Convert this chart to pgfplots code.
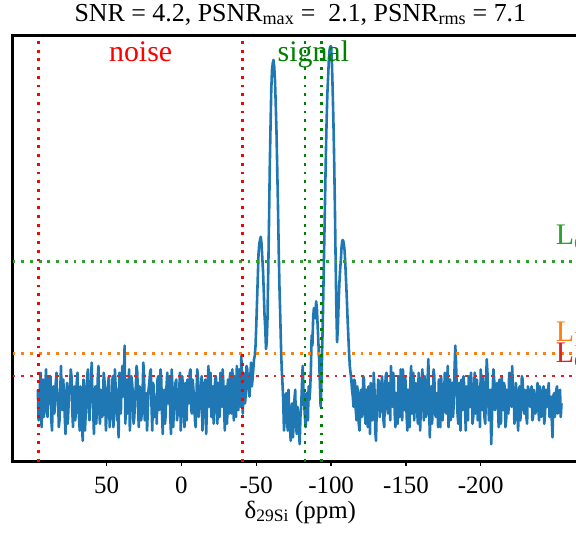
\documentclass[border=0pt]{standalone}
\usepackage{pgfplots}
\pgfplotsset{compat=1.18}
\usepackage{pgfplotstable}
\usepackage{fontspec}
\setmainfont{Liberation Serif}

\definecolor{tabblue}{RGB}{31,119,180}
\definecolor{tabgreen}{RGB}{44,160,44}
\definecolor{taborange}{RGB}{255,127,14}
\definecolor{tabred}{RGB}{214,39,40}
\definecolor{mplgreen}{RGB}{0,128,0}
\definecolor{mplred}{RGB}{255,0,0}

% spectrum: ppm, normalised intensity
\pgfplotstableread{
x y
96 0.03
95.5 -0.06
95 -0.02
94.5 0.05
94 0.08
93.5 -0.08
93 0.01
92.5 0.06
92 -0.05
91.5 -0.01
91 0.04
90.5 0.09
90 -0.03
89.5 -0.05
89 0.07
88.5 0.03
88 -0.01
87.5 0.07
87 -0.06
86.5 -0.09
86 0.02
85.5 0.04
85 -0.04
84.5 -0.02
84 0.05
83.5 0.08
83 0.00
82.5 0.02
82 -0.08
81.5 -0.06
81 0.03
80.5 0.10
80 -0.02
79.5 -0.03
79 0.06
78.5 0.01
78 -0.05
77.5 -0.10
77 0.01
76.5 0.05
76 -0.07
75.5 -0.02
75 0.04
74.5 0.03
74 0.09
73.5 0.07
73 -0.03
72.5 -0.08
72 0.02
71.5 0.04
71 -0.06
70.5 -0.03
70 0.05
69.5 0.08
69 -0.01
68.5 -0.05
68 -0.09
67.5 0.04
67 0.00
66.5 -0.07
66 -0.12
65.5 0.06
65 0.03
64.5 -0.09
64 -0.04
63.5 0.02
63 0.07
62.5 0.09
62 -0.02
61.5 -0.06
61 0.04
60.5 0.05
60 0.11
59.5 0.01
59 -0.03
58.5 -0.10
58 0.01
57.5 0.04
57 -0.07
56.5 -0.03
56 0.06
55.5 0.10
55 -0.02
54.5 -0.07
54 0.03
53.5 0.02
53 -0.05
52.5 -0.04
52 0.08
51.5 0.06
51 0.00
50.5 -0.09
50 -0.04
49.5 0.03
49 0.05
48.5 0.07
48 -0.08
47.5 -0.05
47 0.02
46.5 0.01
46 0.07
45.5 -0.08
45 -0.03
44.5 0.09
44 0.04
43.5 0.03
43 -0.06
42.5 -0.05
42 -0.11
41.5 0.08
41 0.02
40.5 -0.04
40 0.06
39.5 0.10
39 0.01
38.5 0.05
38 0.16
37.5 -0.07
37 0.03
36.5 0.06
36 -0.04
35.5 -0.02
35 0.09
34.5 -0.09
34 -0.02
33.5 0.07
33 0.05
32.5 0.02
32 -0.07
31.5 -0.05
31 0.01
30.5 0.04
30 0.10
29.5 0.08
29 -0.03
28.5 -0.08
28 0.04
27.5 0.03
27 -0.06
26.5 -0.04
26 0.02
25.5 0.11
25 0.07
24.5 -0.06
24 -0.01
23.5 0.02
23 -0.09
22.5 -0.03
22 0.03
21.5 0.05
21 0.08
20.5 0.09
20 -0.02
19.5 -0.09
19 0.05
18.5 0.04
18 -0.05
17.5 -0.02
17 0.01
16.5 -0.07
16 0.06
15.5 0.07
15 -0.03
14.5 0.01
14 0.09
13.5 0.06
13 -0.04
12.5 -0.10
12 0.02
11.5 0.03
11 -0.07
10.5 -0.04
10 0.04
9.5 0.08
9 -0.01
8.5 0.02
8 0.07
7.5 -0.05
7 -0.10
6.5 0.09
6 0.03
5.5 -0.08
5 -0.02
4.5 0.01
4 0.05
3.5 0.06
3 -0.06
2.5 -0.04
2 0.01
1.5 0.03
1 0.08
0.5 -0.09
0 -0.03
-0.5 0.07
-1 0.04
-1.5 -0.02
-2 -0.08
-2.5 0.05
-3 0.02
-3.5 -0.06
-4 0.06
-4.5 0.02
-5 -0.01
-5.5 0.08
-6 0.09
-6.5 -0.03
-7 -0.04
-7.5 0.06
-8 0.03
-8.5 0.01
-9 -0.06
-9.5 -0.08
-10 0.01
-10.5 0.09
-11 0.07
-11.5 -0.05
-12 -0.02
-12.5 0.02
-13 0.04
-13.5 0.07
-14 -0.09
-14.5 -0.04
-15 0.00
-15.5 0.05
-16 0.06
-16.5 -0.10
-17 -0.03
-17.5 0.03
-18 0.10
-18.5 -0.02
-19 0.02
-19.5 0.08
-20 -0.05
-20.5 0.01
-21 0.04
-21.5 -0.07
-22 -0.01
-22.5 0.06
-23 0.07
-23.5 0.00
-24 -0.07
-24.5 0.05
-25 0.03
-25.5 -0.05
-26 0.08
-26.5 0.02
-27 -0.02
-27.5 0.09
-28 0.05
-28.5 -0.03
-29 -0.09
-29.5 0.04
-30 0.01
-30.5 -0.07
-31 0.06
-31.5 0.03
-32 -0.04
-32.5 0.08
-33 0.03
-33.5 -0.04
-34 0.09
-34.5 0.02
-35 -0.06
-35.5 0.07
-36 0.02
-36.5 -0.05
-37 0.10
-37.5 0.04
-38 -0.03
-38.5 0.09
-39 0.05
-39.5 -0.02
-40 0.13
-40.5 0.05
-41 -0.04
-41.5 0.08
-42 0.06
-42.5 -0.01
-43 0.02
-43.5 0.10
-44 0.09
-44.5 0.04
-45 0.03
-45.5 0.01
-46 0.07
-46.5 0.11
-47 0.04
-47.5 0.06
-48 0.09
-48.5 0.12
-49 0.13
-49.5 0.16
-50 0.22
-50.5 0.29
-51 0.36
-51.5 0.43
-52 0.46
-52.5 0.47
-53 0.48
-53.5 0.46
-54 0.42
-54.5 0.38
-55 0.32
-55.5 0.25
-56 0.21
-56.5 0.15
-57 0.17
-57.5 0.24
-58 0.38
-58.5 0.52
-59 0.68
-59.5 0.80
-60 0.91
-60.5 0.97
-61 0.99
-61.5 1.00
-62 0.98
-62.5 0.94
-63 0.87
-63.5 0.79
-64 0.68
-64.5 0.57
-65 0.44
-65.5 0.33
-66 0.25
-66.5 0.16
-67 0.09
-67.5 0.05
-68 0.00
-68.5 -0.09
-69 -0.06
-69.5 0.01
-70 0.02
-70.5 -0.05
-71 -0.09
-71.5 0.03
-72 -0.03
-72.5 -0.08
-73 -0.12
-73.5 -0.04
-74 -0.01
-74.5 -0.11
-75 -0.07
-75.5 0.00
-76 0.03
-76.5 -0.06
-77 -0.10
-77.5 -0.02
-78 -0.04
-78.5 -0.09
-79 -0.13
-79.5 -0.05
-80 -0.02
-80.5 0.04
-81 0.10
-81.5 0.03
-82 -0.01
-82.5 -0.05
-83 -0.08
-83.5 0.02
-84 -0.03
-84.5 -0.06
-85 0.04
-85.5 0.00
-86 0.03
-86.5 0.09
-87 0.19
-87.5 0.16
-88 0.24
-88.5 0.27
-89 0.27
-89.5 0.24
-90 0.29
-90.5 0.27
-91 0.22
-91.5 0.17
-92 0.12
-92.5 0.05
-93 -0.02
-93.5 0.04
-94 0.14
-94.5 0.24
-95 0.36
-95.5 0.48
-96 0.60
-96.5 0.72
-97 0.82
-97.5 0.90
-98 0.95
-98.5 1.00
-99 1.03
-99.5 1.04
-100 1.04
-100.5 1.00
-101 0.92
-101.5 0.83
-102 0.72
-102.5 0.58
-103 0.42
-103.5 0.27
-104 0.17
-104.5 0.21
-105 0.28
-105.5 0.34
-106 0.38
-106.5 0.41
-107 0.45
-107.5 0.47
-108 0.47
-108.5 0.46
-109 0.44
-109.5 0.40
-110 0.35
-110.5 0.30
-111 0.24
-111.5 0.19
-112 0.14
-112.5 0.10
-113 0.08
-113.5 0.06
-114 0.03
-114.5 0.01
-115 -0.02
-115.5 0.06
-116 0.05
-116.5 -0.03
-117 -0.06
-117.5 0.04
-118 0.01
-118.5 -0.07
-119 -0.09
-119.5 0.02
-120 0.03
-120.5 -0.05
-121 -0.04
-121.5 0.07
-122 0.06
-122.5 -0.01
-123 -0.07
-123.5 0.03
-124 0.00
-124.5 -0.08
-125 0.04
-125.5 0.01
-126 -0.10
-126.5 0.05
-127 0.02
-127.5 -0.06
-128 -0.05
-128.5 0.08
-129 0.03
-129.5 -0.09
-130 -0.12
-130.5 -0.03
-131 0.01
-131.5 0.06
-132 0.05
-132.5 -0.05
-133 -0.03
-133.5 0.02
-134 0.07
-134.5 0.04
-135 -0.06
-135.5 -0.08
-136 0.02
-136.5 0.07
-137 0.08
-137.5 -0.02
-138 -0.04
-138.5 0.05
-139 0.03
-139.5 -0.06
-140 0.10
-140.5 0.03
-141 -0.02
-141.5 0.08
-142 0.06
-142.5 -0.04
-143 -0.08
-143.5 0.02
-144 0.01
-144.5 -0.07
-145 0.07
-145.5 0.04
-146 -0.05
-146.5 0.09
-147 0.02
-147.5 -0.06
-148 0.09
-148.5 0.01
-149 -0.03
-149.5 0.07
-150 0.04
-150.5 -0.05
-151 -0.09
-151.5 0.03
-152 0.00
-152.5 -0.08
-153 0.06
-153.5 0.10
-154 -0.04
-154.5 0.02
-155 0.08
-155.5 -0.06
-156 -0.01
-156.5 0.05
-157 0.03
-157.5 -0.03
-158 -0.07
-158.5 0.08
-159 0.05
-159.5 -0.09
-160 -0.02
-160.5 0.04
-161 0.09
-161.5 0.01
-162 -0.06
-162.5 0.07
-163 0.01
-163.5 -0.05
-164 -0.03
-164.5 0.06
-165 0.12
-165.5 -0.02
-166 -0.11
-166.5 0.03
-167 0.04
-167.5 -0.07
-168 -0.01
-168.5 0.09
-169 0.07
-169.5 -0.04
-170 -0.05
-170.5 0.02
-171 0.02
-171.5 -0.08
-172 0.06
-172.5 0.04
-173 -0.08
-173.5 0.07
-174 0.03
-174.5 -0.06
-175 -0.02
-175.5 0.01
-176 0.08
-176.5 -0.03
-177 -0.04
-177.5 0.05
-178 0.10
-178.5 -0.08
-179 0.01
-179.5 0.06
-180 -0.06
-180.5 0.02
-181 0.05
-181.5 -0.05
-182 -0.01
-182.5 0.09
-183 0.16
-183.5 0.11
-184 0.03
-184.5 -0.04
-185 -0.07
-185.5 0.05
-186 0.02
-186.5 -0.09
-187 0.06
-187.5 0.03
-188 -0.03
-188.5 0.07
-189 0.04
-189.5 -0.02
-190 -0.09
-190.5 0.04
-191 0.01
-191.5 -0.06
-192 0.07
-192.5 0.02
-193 -0.02
-193.5 0.08
-194 0.03
-194.5 -0.07
-195 -0.05
-195.5 0.03
-196 0.08
-196.5 -0.04
-197 0.00
-197.5 0.06
-198 -0.06
-198.5 0.01
-199 0.04
-199.5 -0.08
-200 0.09
-200.5 0.05
-201 -0.03
-201.5 0.07
-202 0.02
-202.5 -0.05
-203 -0.07
-203.5 0.02
-204 0.12
-204.5 0.08
-205 0.01
-205.5 -0.06
-206 -0.04
-206.5 0.03
-207 -0.13
-207.5 -0.06
-208 0.03
-208.5 0.09
-209 0.06
-209.5 -0.03
-210 -0.02
-210.5 0.04
-211 0.05
-211.5 -0.01
-212 -0.08
-212.5 0.06
-213 0.01
-213.5 -0.07
-214 0.07
-214.5 0.02
-215 -0.03
-215.5 0.05
-216 0.04
-216.5 -0.08
-217 -0.06
-217.5 0.03
-218 0.02
-218.5 -0.04
-219 0.08
-219.5 0.06
-220 -0.01
-220.5 -0.02
-221 0.10
-221.5 0.04
-222 0.03
-222.5 -0.07
-223 -0.05
-223.5 0.05
-224 0.02
-224.5 -0.03
-225 -0.09
-225.5 0.02
-226 0.04
-226.5 -0.06
-227 0.00
-227.5 0.07
-228 0.06
-228.5 -0.02
-229 -0.04
-229.5 0.03
-230 0.01
-230.5 -0.05
-231 -0.07
-231.5 0.04
-232 0.03
-232.5 -0.01
-233 -0.02
-233.5 0.02
-234 0.04
-234.5 -0.06
-235 -0.05
-235.5 0.03
-236 0.01
-236.5 -0.04
-237 -0.03
-237.5 0.01
-238 0.05
-238.5 -0.02
-239 -0.06
-239.5 0.04
-240 0.02
-240.5 -0.05
-241 -0.01
-241.5 0.02
-242 0.04
-242.5 -0.07
-243 -0.04
-243.5 0.03
-244 0.00
-244.5 -0.02
-245 0.03
-245.5 0.05
-246 -0.05
-246.5 -0.03
-247 0.01
-247.5 -0.06
-248 -0.11
-248.5 0.01
-249 0.02
-249.5 -0.05
-250 -0.03
-250.5 0.03
-251 0.04
-251.5 -0.04
-252 -0.02
-252.5 0.02
-253 0.03
-253.5 -0.05
-254 -0.01
}\spectrum

\begin{document}
\begin{tikzpicture}
\begin{axis}[
    scale only axis,
    width=575.3bp, height=426bp,
    x dir=reverse,
    xmin=-271.7, xmax=112.8,
    ymin=-0.181, ymax=1.072,
    axis line style={line width=2.6bp},
    xtick={50,0,-50,-100,-150,-200},
    xticklabels={50,0,-50,-100,-150,-200},
    ytick=\empty,
    tick pos=bottom,
    tick align=outside,
    major tick length=4bp,
    every tick/.style={black, line width=1.2bp},
    xticklabel style={font=\fontsize{25}{30}\selectfont, anchor=base, yshift=-28bp},
    xlabel={δ\textsubscript{29Si} (ppm)},
    xlabel style={font=\fontsize{25}{30}\selectfont, at={(axis description cs:0.5,0)}, anchor=base, yshift=-56.5bp},
    title={SNR = 4.2, PSNR\textsubscript{max} =\ \ 2.1, PSNR\textsubscript{rms} = 7.1},
    title style={font=\fontsize{26}{31}\selectfont, at={(axis description cs:0.5,1)}, anchor=base, yshift=8.5bp},
    every axis plot/.append style={line cap=butt},
]
\addplot[tabblue, line width=2.6bp, line join=round] table[x=x, y=y] {\spectrum};

\addplot[tabgreen, line width=2.8bp, dash pattern=on 2.8bp off 5.9bp] coordinates {(112.8,0.4068) (-271.7,0.4068)};
\addplot[taborange, line width=2.8bp, dash pattern=on 2.8bp off 5.9bp] coordinates {(112.8,0.1374) (-271.7,0.1374)};
\addplot[tabred, line width=2.8bp, dash pattern=on 2.8bp off 5.9bp] coordinates {(112.8,0.0706) (-271.7,0.0706)};

\addplot[mplred, line width=2.8bp, dash pattern=on 2.8bp off 5.9bp] coordinates {(95.5,-0.181) (95.5,1.072)};
\addplot[mplred, line width=2.8bp, dash pattern=on 2.8bp off 5.9bp] coordinates {(-40.9,-0.181) (-40.9,1.072)};
\addplot[mplgreen, line width=2.8bp, dash pattern=on 2.8bp off 5.9bp] coordinates {(-82.6,-0.181) (-82.6,1.072)};
\addplot[mplgreen, line width=2.8bp, dash pattern=on 2.8bp off 5.9bp] coordinates {(-93.7,-0.181) (-93.7,1.072)};

\node[anchor=base, text=mplred, font=\fontsize{30}{36}\selectfont, inner sep=0pt] at (axis cs:27.3,0.995) {noise};
\node[anchor=base, text=mplgreen, font=\fontsize{30}{36}\selectfont, inner sep=0pt] at (axis cs:-88.15,0.995) {signal};
\node[anchor=base west, text=tabgreen, font=\fontsize{30}{36}\selectfont, inner sep=0pt] at (axis cs:-250.1,0.456) {L\textsubscript{Q}};
\node[anchor=base west, text=taborange, font=\fontsize{30}{36}\selectfont, inner sep=0pt] at (axis cs:-250.1,0.171) {L\textsubscript{D}};
\node[anchor=base west, text=tabred, font=\fontsize{30}{36}\selectfont, inner sep=0pt] at (axis cs:-250.1,0.109) {L\textsubscript{C}};
\end{axis}
\pgfresetboundingbox
\useasboundingbox (-12.7bp,-71.5bp) rectangle (563.3bp,461.5bp);
\end{tikzpicture}
\end{document}
